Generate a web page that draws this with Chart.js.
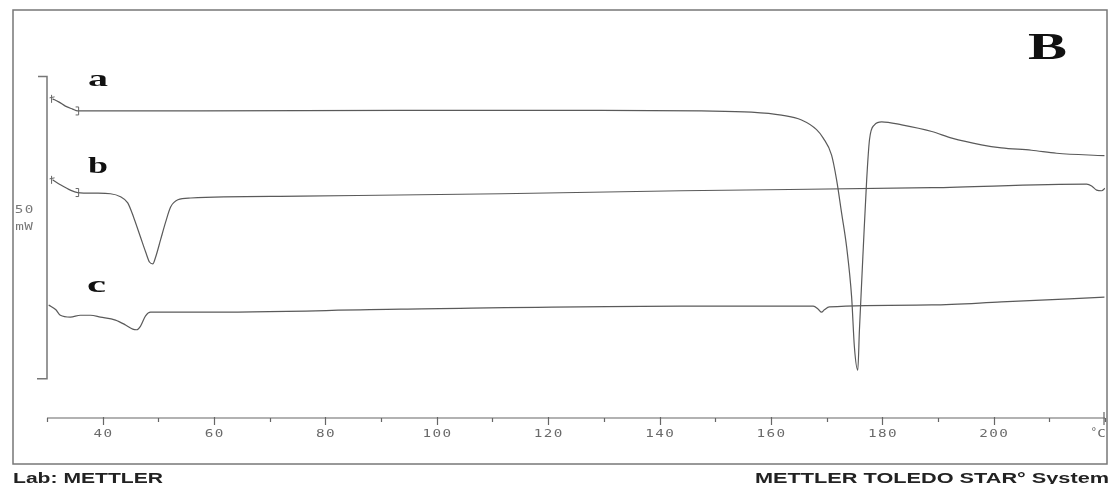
<!DOCTYPE html>
<html>
<head>
<meta charset="utf-8">
<script src="https://cdn.jsdelivr.net/npm/chart.js@4"></script>
<style>
  html, body { margin: 0; padding: 0; background: #fff; }
  canvas { display: block; }
</style>
</head>
<body>
<canvas id="dsc" width="1110" height="484"></canvas>
<script>
// DSC curves, temperature in °C and heat flow in mW (offset per curve)
const aTemp = [31.0, 32.1, 33.3, 34.6, 35.5, 57.6, 93.6, 129.5, 147.5, 156.5, 161.9, 165.5, 168.2, 169.4, 170.9, 171.8, 172.7, 173.6, 174.5, 175.0, 175.6, 175.9, 176.6, 177.2, 177.7, 178.6, 179.9, 183.5, 188.9, 192.5, 197.8, 201.4, 206.8, 211.3, 219.9];
const aFlow = [52.8, 52.3, 51.6, 51.1, 50.8, 50.8, 50.9, 50.9, 50.8, 50.6, 50.1, 49.3, 47.7, 46.3, 43.5, 39.4, 33.9, 28.3, 20.0, 11.7, 7.9, 14.6, 28.3, 39.4, 46.0, 48.5, 49.0, 48.5, 47.4, 46.3, 45.2, 44.7, 44.3, 43.8, 43.4];

const bTemp = [31.0, 32.4, 34.2, 35.5, 38.7, 41.4, 43.2, 44.5, 45.6, 46.8, 47.7, 48.4, 49.0, 49.5, 50.4, 51.3, 52.2, 53.5, 55.8, 75.6, 111.6, 143.9, 188.9, 216.7, 217.6, 218.5, 219.4, 220.0];
const bFlow = [39.4, 38.6, 37.7, 37.3, 37.2, 37.1, 36.6, 35.6, 33.1, 29.9, 27.5, 25.8, 25.5, 26.6, 29.5, 32.4, 34.9, 36.1, 36.4, 36.7, 37.1, 37.6, 38.1, 38.7, 38.4, 37.7, 37.6, 38.0];

const cTemp = [30.3, 31.6, 32.4, 34.2, 36.0, 37.8, 39.6, 42.3, 44.1, 45.4, 46.1, 46.8, 47.7, 48.6, 57.6, 93.6, 143.9, 167.6, 168.5, 169.1, 169.6, 170.5, 188.9, 201.4, 219.9];
const cFlow = [18.7, 17.9, 17.0, 16.7, 17.0, 17.0, 16.7, 16.2, 15.4, 14.7, 14.6, 15.2, 16.9, 17.5, 17.5, 18.0, 18.5, 18.5, 18.0, 17.5, 17.9, 18.4, 18.7, 19.2, 20.0];

const curveNames = ["a", "b", "c"];
const majorTicks = [40, 60, 80, 100, 120, 140, 160, 180, 200];
const minorTicks = [30, 50, 70, 90, 110, 130, 150, 170, 190, 210, 220];
const scaleBar = [6.5, 56.5]; // 50 mW
const markerEnd = 35.5; // end of the start-up segment on a and b

function pts(xs, ys) {
  return xs.map((x, i) => ({ x: x, y: ys[i] }));
}

// draw text squeezed/stretched to a given width
function fitText(ctx, text, left, base, width, font) {
  ctx.font = font;
  const w = ctx.measureText(text).width;
  ctx.save();
  ctx.translate(left, base);
  ctx.scale(width / w, 1);
  ctx.textAlign = "left";
  ctx.textBaseline = "alphabetic";
  ctx.fillText(text, 0, 0);
  ctx.restore();
}

// wide, spaced characters like the instrument printout
function spaced(ctx, text, cx, cy, step) {
  const n = text.length;
  for (let i = 0; i < n; i++) {
    ctx.save();
    ctx.translate(cx + (i - (n - 1) / 2) * step, cy);
    ctx.scale(1.3, 1);
    ctx.fillText(text[i], 0, 0);
    ctx.restore();
  }
}

const decor = {
  id: "decor",
  afterDraw(chart) {
    const ctx = chart.ctx;
    const xs = chart.scales.x, ys = chart.scales.y;
    const area = chart.chartArea;
    ctx.save();

    // outer frame
    ctx.strokeStyle = "#777";
    ctx.lineWidth = 1.5;
    ctx.strokeRect(13, 10, 1094, 454);

    // temperature axis
    ctx.strokeStyle = "#666";
    ctx.lineWidth = 1.2;
    ctx.beginPath();
    ctx.moveTo(area.left, area.bottom);
    ctx.lineTo(area.right, area.bottom);
    majorTicks.forEach(t => {
      const px = Math.round(xs.getPixelForValue(t)) + 0.5;
      ctx.moveTo(px, area.bottom - 1);
      ctx.lineTo(px, area.bottom + 7);
    });
    minorTicks.forEach(t => {
      const px = Math.round(xs.getPixelForValue(t)) + 0.5;
      ctx.moveTo(px, area.bottom);
      ctx.lineTo(px, area.bottom + 4);
    });
    const endX = xs.getPixelForValue(220) - 1;
    ctx.moveTo(endX, area.bottom - 6);
    ctx.lineTo(endX, area.bottom + 7);
    ctx.stroke();

    ctx.fillStyle = "#6a6a6a";
    ctx.font = "11px 'DejaVu Sans Mono'";
    ctx.textAlign = "center";
    ctx.textBaseline = "middle";
    majorTicks.forEach(t => spaced(ctx, String(t), xs.getPixelForValue(t), area.bottom + 16, 10));
    ctx.fillText("°", xs.getPixelForValue(218), area.bottom + 14);
    spaced(ctx, "C", xs.getPixelForValue(219.4), area.bottom + 16, 10);

    // 50 mW scale bar
    const y0 = ys.getPixelForValue(scaleBar[0]);
    const y1 = ys.getPixelForValue(scaleBar[1]);
    ctx.strokeStyle = "#777";
    ctx.lineWidth = 1.5;
    ctx.beginPath();
    ctx.moveTo(38, y1);
    ctx.lineTo(area.left, y1);
    ctx.lineTo(area.left, y0);
    ctx.lineTo(37, y0);
    ctx.stroke();
    ctx.fillStyle = "#777";
    ctx.font = "11px 'DejaVu Sans Mono'";
    spaced(ctx, "50", 24, (y0 + y1) / 2 - 17, 10);
    spaced(ctx, "mW", 24, (y0 + y1) / 2, 9);

    // start / end markers on curves a and b
    ctx.strokeStyle = "#666";
    ctx.lineWidth = 1;
    [[aTemp, aFlow], [bTemp, bFlow]].forEach(([t, f]) => {
      const sx = xs.getPixelForValue(t[0]), sy = ys.getPixelForValue(f[0]);
      ctx.beginPath();
      ctx.moveTo(sx - 1, sy - 4);
      ctx.lineTo(sx - 1, sy + 4);
      ctx.moveTo(sx - 3, sy - 1);
      ctx.lineTo(sx + 2, sy - 2);
      const k = t.indexOf(markerEnd);
      const ex = xs.getPixelForValue(t[k]) + 1, ey = ys.getPixelForValue(f[k]);
      ctx.moveTo(ex - 3, ey - 4);
      ctx.lineTo(ex, ey - 4);
      ctx.lineTo(ex, ey + 4);
      ctx.lineTo(ex - 3, ey + 4);
      ctx.stroke();
    });

    // curve letters and panel letter
    ctx.fillStyle = "#111";
    fitText(ctx, curveNames[0], 88, 86, 20, "bold 24px 'Liberation Serif'");
    fitText(ctx, curveNames[1], 88, 173, 20, "bold 24px 'Liberation Serif'");
    fitText(ctx, curveNames[2], 87, 292, 19, "bold 24px 'Liberation Serif'");
    fitText(ctx, "B", 1028, 59, 39, "bold 38px 'Liberation Serif'");

    // footer
    ctx.fillStyle = "#222";
    fitText(ctx, "Lab: METTLER", 13, 483, 150, "bold 14px 'Liberation Sans'");
    fitText(ctx, "METTLER TOLEDO STAR° System", 755, 483, 354, "bold 14px 'Liberation Sans'");
    ctx.restore();
  }
};

const lineStyle = {
  borderColor: "#5a5a5a",
  borderWidth: 1.2,
  pointRadius: 0,
  fill: false,
  cubicInterpolationMode: "monotone"
};

new Chart("dsc", {
  type: "line",
  data: {
    datasets: [
      Object.assign({ label: curveNames[0], data: pts(aTemp, aFlow) }, lineStyle),
      Object.assign({ label: curveNames[1], data: pts(bTemp, bFlow) }, lineStyle),
      Object.assign({ label: curveNames[2], data: pts(cTemp, cFlow) }, lineStyle)
    ]
  },
  options: {
    responsive: false,
    animation: false,
    devicePixelRatio: 1,
    layout: { padding: { left: 47, right: 5, top: 10, bottom: 66 } },
    plugins: { legend: { display: false }, tooltip: { enabled: false } },
    scales: {
      x: { type: "linear", min: 30, max: 220, display: false },
      y: { min: 0, max: 67.5, display: false }
    }
  },
  plugins: [decor]
});
</script>
</body>
</html>
